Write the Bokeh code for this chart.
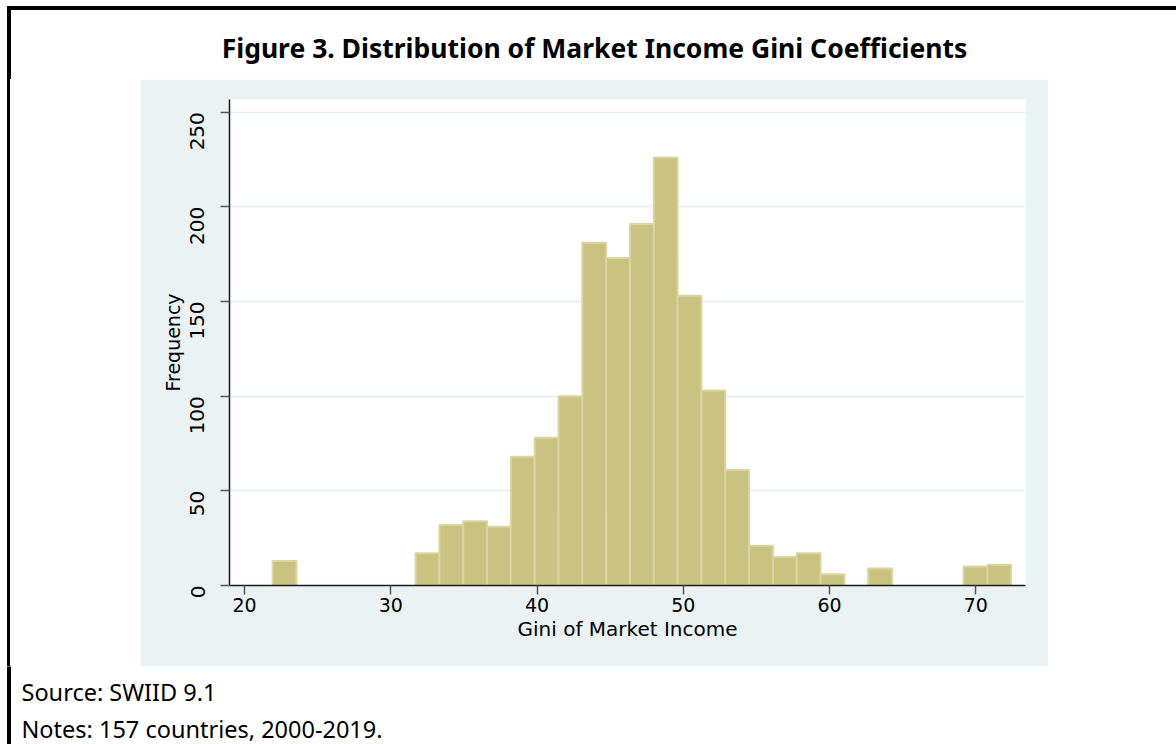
import numpy as np
from bokeh.plotting import figure
from bokeh.models import Range1d, Label, FixedTicker, Spacer
from bokeh.layouts import column, row
from bokeh.embed import file_html
from bokeh.resources import INLINE

# ---- chart content ----
title_text = "Figure 3. Distribution of Market Income Gini Coefficients"
source_text = "Source: SWIID 9.1"
notes_text = "Notes: 157 countries, 2000-2019."
x_label = "Gini of Market Income"
y_label = "Frequency"

# histogram of market-income Gini values (31 equal-width bins)
bin_first_edge = 21.92
bin_width = 1.629
frequency = [13, 0, 0, 0, 0, 0, 17, 32, 34, 31, 68, 78, 100, 181, 173, 191,
             226, 153, 103, 61, 21, 15, 17, 6, 0, 9, 0, 0, 0, 10, 11]

x_ticks = [20, 30, 40, 50, 60, 70]
y_ticks = [0, 50, 100, 150, 200, 250]

# ---- styling ----
PANEL_BG = "#EAF2F3"
BAR_FILL = "#CAC280"
BAR_LINE = "#DAD5A2"
GRID = "#E6EEF0"
AXIS_FONT = "DejaVu Sans"
TEXT_FONT = "Noto Sans"

# ---- main histogram panel ----
counts = np.array(frequency, dtype=float)
edges = bin_first_edge + bin_width * np.arange(len(counts) + 1)
keep = counts > 0

p = figure(width=908, height=587,
           x_range=Range1d(18.97, 73.4), y_range=Range1d(0, 256.7),
           output_backend="svg", toolbar_location=None,
           min_border_left=89, min_border_right=23,
           min_border_top=20, min_border_bottom=81)
p.border_fill_color = PANEL_BG
p.background_fill_color = "white"
p.outline_line_color = None

p.quad(left=edges[:-1][keep], right=edges[1:][keep], bottom=0, top=counts[keep],
       fill_color=BAR_FILL, line_color=BAR_LINE, line_width=2)

p.xgrid.grid_line_color = None
p.ygrid.ticker = FixedTicker(ticks=y_ticks)
p.ygrid.grid_line_color = GRID
p.ygrid.grid_line_width = 1.5

p.xaxis.ticker = FixedTicker(ticks=x_ticks)
p.yaxis.ticker = FixedTicker(ticks=y_ticks)
p.yaxis.major_label_orientation = np.pi / 2

for ax in (p.xaxis[0], p.yaxis[0]):
    ax.axis_line_color = "#1a1a1a"
    ax.axis_line_width = 1.5
    ax.major_tick_line_color = "#555555"
    ax.major_tick_line_width = 1.5
    ax.major_tick_out = 9
    ax.major_tick_in = 0
    ax.minor_tick_line_color = None
    ax.major_label_text_font = AXIS_FONT
    ax.major_label_text_color = "black"
    ax.axis_label_text_font = AXIS_FONT
    ax.axis_label_text_font_style = "normal"
    ax.axis_label_text_color = "black"

p.xaxis.axis_label = x_label
p.yaxis.axis_label = y_label
p.xaxis.major_label_text_font_size = "19px"
p.yaxis.major_label_text_font_size = "20px"
p.xaxis.axis_label_text_font_size = "20px"
p.yaxis.axis_label_text_font_size = "19px"
p.xaxis.major_label_standoff = 3
p.xaxis.axis_label_standoff = 2
p.yaxis.major_label_standoff = 23
p.yaxis.axis_label_standoff = -3


# ---- surrounding page pieces (frame, heading, notes) ----
def blank(w, h):
    f = figure(width=w, height=h, x_range=Range1d(0, w), y_range=Range1d(h, 0),
               output_backend="svg", toolbar_location=None, min_border=0,
               x_axis_location=None, y_axis_location=None)
    f.grid.visible = False
    f.outline_line_color = None
    f.background_fill_color = "white"
    f.border_fill_color = "white"
    return f


FRAME_L, FRAME_R = 7, 10
frame_stripe = ("linear-gradient(to right, white 7px, black 7px, "
                "black 10px, white 10px)")

top = blank(1176, 79)
top.quad(left=FRAME_L, right=1176, top=6, bottom=9, color="black")
top.quad(left=FRAME_L, right=FRAME_R, top=6, bottom=79, color="black")
top.add_layout(Label(x=594, y=47, text=title_text, text_align="center",
                     text_baseline="middle", text_font=TEXT_FONT,
                     text_font_style="bold", text_font_size="26.5px",
                     text_color="black"))

left = Spacer(width=140, height=587, styles={"background": frame_stripe})
right = Spacer(width=128, height=587)

bottom = blank(1176, 78)
bottom.quad(left=FRAME_L, right=FRAME_R, top=0, bottom=78, color="black")
bottom.add_layout(Label(x=21, y=25, text=source_text, text_align="left",
                        text_baseline="alphabetic", text_font=TEXT_FONT,
                        text_font_size="23.5px", text_color="black"))
bottom.add_layout(Label(x=21, y=62, text=notes_text, text_align="left",
                        text_baseline="alphabetic", text_font=TEXT_FONT,
                        text_font_size="23.5px", text_color="black"))

layout = column(top, row(left, p, right, spacing=0), bottom, spacing=0)

with open("out.html", "w") as fh:
    fh.write(file_html(layout, INLINE))
